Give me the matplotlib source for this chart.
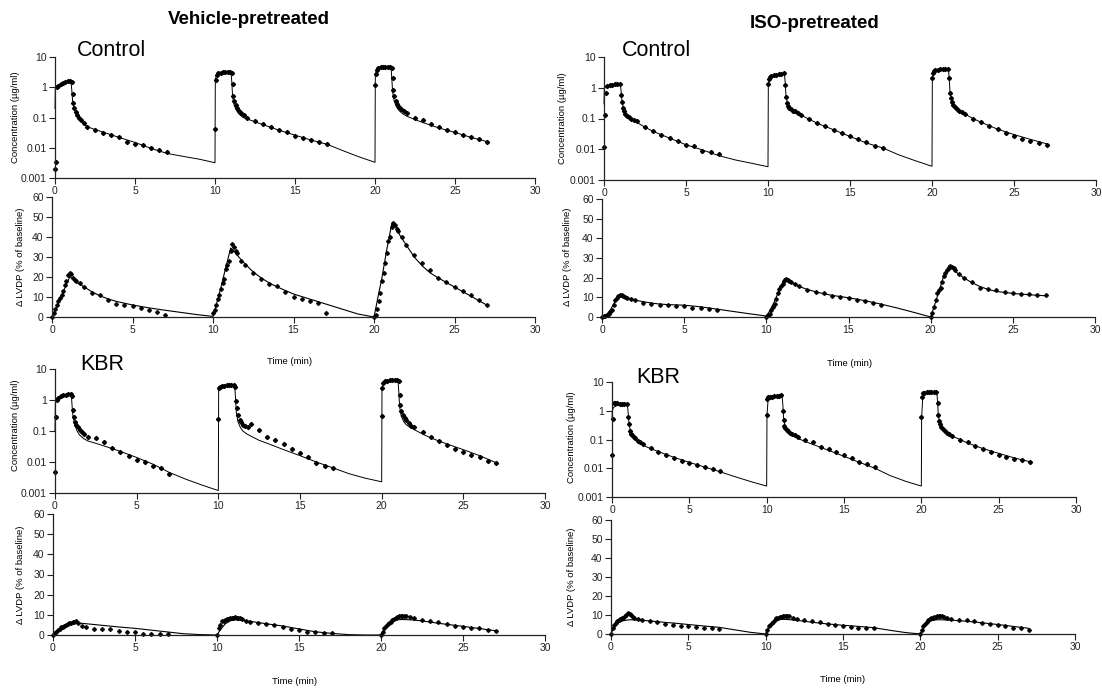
import matplotlib
matplotlib.use("Agg")
import matplotlib.pyplot as plt
from matplotlib.ticker import NullLocator

plt.rcParams['font.family'] = ['Liberation Sans', 'DejaVu Sans']

W, H = 1102, 690

# sampling times (min), three 1-min infusions at 0, 10 and 20 min
conc_time = [0.0, 0.05, 0.1, 0.2, 0.35, 0.5, 0.65, 0.8, 0.95, 1.05, 1.1, 1.15, 1.2, 1.3, 1.4, 1.5, 1.65, 1.8, 2.0, 2.5, 3.0, 3.5, 4.0, 4.5, 5.0, 5.5, 6.0, 6.5, 7.0,
             10.0, 10.05, 10.1, 10.2, 10.35, 10.5, 10.65, 10.8, 10.95, 11.05, 11.1, 11.15, 11.2, 11.3, 11.4, 11.5, 11.65, 11.8, 12.0, 12.5, 13.0, 13.5, 14.0, 14.5, 15.0, 15.5, 16.0, 16.5, 17.0,
             20.0, 20.05, 20.1, 20.2, 20.35, 20.5, 20.65, 20.8, 20.95, 21.05, 21.1, 21.15, 21.2, 21.3, 21.4, 21.5, 21.65, 21.8, 22.0, 22.5, 23.0, 23.5, 24.0, 24.5, 25.0, 25.5, 26.0, 26.5, 27.0]
conc_fit_time = [0.0, 0.02, 0.1, 0.3, 0.6, 0.9, 1.0, 1.05, 1.1, 1.2, 1.35, 1.5, 1.75, 2.0, 2.5, 3.0, 4.0, 5.0, 6.0, 7.0, 8.0, 9.0,
                 10.0, 10.02, 10.1, 10.3, 10.6, 10.9, 11.0, 11.05, 11.1, 11.2, 11.35, 11.5, 11.75, 12.0, 12.5, 13.0, 14.0, 15.0, 16.0, 17.0, 18.0, 19.0,
                 20.0, 20.02, 20.1, 20.3, 20.6, 20.9, 21.0, 21.05, 21.1, 21.2, 21.35, 21.5, 21.75, 22.0, 22.5, 23.0, 24.0, 25.0, 26.0, 27.0]
lvdp_time = [0.0, 0.1, 0.2, 0.3, 0.4, 0.5, 0.6, 0.7, 0.8, 0.9, 1.0, 1.1, 1.2, 1.3, 1.4, 1.5, 1.75, 2.0, 2.5, 3.0, 3.5, 4.0, 4.5, 5.0, 5.5, 6.0, 6.5, 7.0,
             10.0, 10.1, 10.2, 10.3, 10.4, 10.5, 10.6, 10.7, 10.8, 10.9, 11.0, 11.1, 11.2, 11.3, 11.4, 11.5, 11.75, 12.0, 12.5, 13.0, 13.5, 14.0, 14.5, 15.0, 15.5, 16.0, 16.5, 17.0,
             20.0, 20.1, 20.2, 20.3, 20.4, 20.5, 20.6, 20.7, 20.8, 20.9, 21.0, 21.1, 21.2, 21.3, 21.4, 21.5, 21.75, 22.0, 22.5, 23.0, 23.5, 24.0, 24.5, 25.0, 25.5, 26.0, 26.5, 27.0]
lvdp_fit_time = [0.0, 0.2, 0.5, 0.8, 1.1, 1.3, 1.6, 2.0, 2.5, 3.0, 3.5, 4.0, 5.0, 6.0, 7.0, 8.0, 9.0,
                 10.0, 10.2, 10.5, 10.8, 11.1, 11.3, 11.6, 12.0, 12.5, 13.0, 13.5, 14.0, 15.0, 16.0, 17.0, 18.0, 19.0,
                 20.0, 20.2, 20.5, 20.8, 21.1, 21.3, 21.6, 22.0, 22.5, 23.0, 23.5, 24.0, 25.0, 26.0, 27.0]

# Vehicle-pretreated, Control
veh_ctrl_conc = [0.002, 0.0035, 1.0, 1.1, 1.25, 1.35, 1.45, 1.55, 1.6, 1.5, 0.6, 0.3, 0.2, 0.15, 0.12, 0.1, 0.08, 0.065, 0.05, 0.038, 0.031, 0.026, 0.022, 0.016, 0.013, 0.012, 0.0095, 0.0085, 0.0072,
                 0.042, 1.8, 2.5, 2.9, 3.0, 3.1, 3.2, 3.3, 3.2, 3.0, 1.3, 0.5, 0.35, 0.25, 0.2, 0.17, 0.14, 0.12, 0.1, 0.075, 0.06, 0.048, 0.038, 0.032, 0.025, 0.021, 0.018, 0.015, 0.013,
                 1.2, 2.8, 3.8, 4.3, 4.5, 4.6, 4.7, 4.6, 4.5, 4.2, 2.0, 0.8, 0.5, 0.35, 0.28, 0.23, 0.19, 0.16, 0.14, 0.1, 0.08, 0.062, 0.05, 0.04, 0.033, 0.027, 0.022, 0.019, 0.016]
veh_ctrl_conc_fit = [0.2, 0.9, 1.05, 1.2, 1.35, 1.5, 1.5, 0.8, 0.35, 0.18, 0.12, 0.09, 0.065, 0.05, 0.04, 0.033, 0.022, 0.015, 0.0095, 0.0065, 0.0052, 0.0042,
                     0.0032, 1.8, 2.6, 2.9, 3.1, 3.2, 3.1, 1.5, 0.5, 0.25, 0.17, 0.13, 0.1, 0.09, 0.072, 0.058, 0.038, 0.026, 0.018, 0.013, 0.008, 0.005,
                     0.0033, 2.5, 3.8, 4.2, 4.4, 4.5, 4.5, 2.0, 0.7, 0.35, 0.22, 0.17, 0.13, 0.11, 0.085, 0.068, 0.045, 0.032, 0.022, 0.016]
veh_ctrl_lvdp = [0, 2, 4, 6, 8, 9.5, 11, 13, 16, 18, 21, 22, 21.5, 19.5, 18.5, 18, 17, 15, 12, 11, 8.3, 6.7, 5.8, 5.3, 4.5, 3.5, 2.5, 1.2,
                 2, 3.5, 6, 9, 11, 14, 17, 19, 24, 26, 28, 33, 36.5, 35, 33, 32, 28, 26, 22, 19, 16.5, 15.5, 12.5, 10, 9, 8, 7, 2,
                 0, 1, 4, 8, 12, 18, 22, 27, 32, 38, 40, 45, 47, 46, 44, 43, 40, 36, 31, 27, 23.5, 19.5, 17.5, 15, 13, 11, 8.5, 6]
veh_ctrl_lvdp_fit = [0, 3.5, 9, 14.5, 20, 19, 17, 15, 12.5, 10.5, 9, 7.8, 6, 4.6, 3.4, 2.3, 1.2,
                     0.3, 6, 15, 25, 34.5, 33, 30, 26.5, 22.5, 19.5, 17, 15, 11.5, 9, 6.5, 4, 1.5,
                     0, 8, 20, 34, 46.5, 46, 41, 36, 30, 25.5, 22, 19.5, 15, 10.5, 6]

# ISO-pretreated, Control
iso_ctrl_conc = [0.012, 0.13, 0.66, 1.1, 1.2, 1.25, 1.3, 1.35, 1.3, 0.6, 0.35, 0.22, 0.17, 0.14, 0.12, 0.11, 0.1, 0.09, 0.08, 0.054, 0.039, 0.029, 0.024, 0.019, 0.014, 0.013, 0.0088, 0.0083, 0.0069,
                 1.3, 1.9, 2.3, 2.5, 2.6, 2.6, 2.7, 2.8, 3.0, 1.2, 0.5, 0.31, 0.26, 0.22, 0.2, 0.18, 0.17, 0.15, 0.13, 0.1, 0.072, 0.055, 0.042, 0.033, 0.026, 0.021, 0.017, 0.013, 0.011,
                 2.0, 3.0, 3.5, 3.8, 3.9, 4.0, 4.1, 4.2, 4.2, 2.0, 0.7, 0.45, 0.35, 0.28, 0.24, 0.21, 0.18, 0.16, 0.14, 0.1, 0.075, 0.056, 0.044, 0.034, 0.027, 0.022, 0.018, 0.016, 0.014]
iso_ctrl_conc_fit = [0.3, 0.9, 1.1, 1.2, 1.3, 1.35, 1.3, 0.7, 0.35, 0.2, 0.14, 0.11, 0.09, 0.075, 0.052, 0.038, 0.023, 0.014, 0.0095, 0.0062, 0.0045, 0.0035,
                     0.0027, 1.3, 2.2, 2.5, 2.6, 2.8, 2.8, 1.5, 0.5, 0.3, 0.22, 0.19, 0.16, 0.13, 0.095, 0.07, 0.043, 0.026, 0.016, 0.011, 0.0065, 0.0042,
                     0.0028, 2.0, 3.4, 3.8, 4.0, 4.2, 4.2, 2.0, 0.7, 0.4, 0.27, 0.21, 0.17, 0.14, 0.1, 0.075, 0.045, 0.03, 0.021, 0.015]
iso_ctrl_lvdp = [0, 0.3, 0.5, 1.0, 1.7, 2.5, 3.4, 5.9, 8.5, 9.5, 10.5, 11, 11, 10.8, 10.2, 9.8, 9.3, 8.5, 7.3, 6.8, 6.3, 5.9, 5.6, 5.6, 4.7, 4.6, 4.2, 3.4,
                 0, 0.8, 1.7, 3.5, 5, 6.8, 9.3, 12, 14.4, 16, 17, 18.5, 19.5, 19, 18.5, 17.8, 17, 16, 13.9, 12.7, 12.2, 10.5, 10.2, 9.7, 8.5, 8.0, 7.1, 6.3,
                 0, 2, 5, 8.5, 12, 13.5, 15, 18, 21, 22.5, 24, 25, 26, 25.5, 24.8, 24, 22, 20, 18, 15, 14.4, 13.6, 12.7, 12.2, 11.9, 11.5, 11, 11]
iso_ctrl_lvdp_fit = [0, 0.5, 3.5, 8.0, 11.0, 10.6, 9.6, 8.6, 7.8, 7.1, 6.6, 6.3, 6.0, 5.2, 4.0, 2.8, 1.6,
                     0.5, 3.0, 8.0, 14.0, 19.5, 19.0, 17.0, 15.5, 14.0, 12.8, 11.8, 11.0, 9.8, 8.3, 6.5, 4.5, 2.3,
                     0, 5, 13, 21, 26, 25, 22.5, 20, 17.5, 15.5, 14, 13, 12, 11.3, 10.8]

# Vehicle-pretreated, KBR
veh_kbr_conc = [0.0048, 0.28, 1.0, 1.2, 1.35, 1.45, 1.5, 1.55, 1.6, 1.3, 0.46, 0.29, 0.2, 0.16, 0.13, 0.11, 0.095, 0.078, 0.066, 0.058, 0.045, 0.029, 0.021, 0.016, 0.012, 0.0097, 0.0076, 0.0063, 0.0041,
                0.25, 2.4, 2.6, 2.8, 2.9, 3.0, 3.0, 3.1, 3.0, 2.6, 0.96, 0.55, 0.33, 0.23, 0.2, 0.16, 0.14, 0.13, 0.17, 0.11, 0.066, 0.05, 0.037, 0.027, 0.02, 0.014, 0.0095, 0.0075, 0.0065,
                0.3, 2.5, 3.5, 4.0, 4.2, 4.3, 4.4, 4.5, 4.4, 4.0, 1.5, 0.7, 0.45, 0.32, 0.26, 0.22, 0.18, 0.15, 0.13, 0.09, 0.065, 0.048, 0.036, 0.027, 0.021, 0.017, 0.014, 0.011, 0.0095]
veh_kbr_conc_fit = [0.1, 0.8, 1.1, 1.3, 1.45, 1.5, 1.45, 0.6, 0.3, 0.17, 0.1, 0.075, 0.057, 0.048, 0.04, 0.033, 0.022, 0.014, 0.0085, 0.0046, 0.0028, 0.0018,
                    0.0012, 2.2, 2.5, 2.7, 2.9, 3.0, 3.0, 1.2, 0.4, 0.2, 0.13, 0.1, 0.08, 0.068, 0.05, 0.04, 0.025, 0.016, 0.01, 0.0065, 0.0042, 0.003,
                    0.0023, 2.5, 3.2, 3.9, 4.2, 4.4, 4.3, 1.8, 0.6, 0.3, 0.2, 0.16, 0.13, 0.11, 0.08, 0.06, 0.038, 0.025, 0.016, 0.0095]
veh_kbr_lvdp = [0, 0.8, 1.5, 2.5, 3.2, 3.8, 4.2, 4.6, 5.0, 5.4, 5.9, 6.1, 6.4, 6.6, 6.7, 5.8, 4.5, 3.9, 2.9, 2.9, 2.9, 2.0, 1.7, 1.3, 0.5, 0.3, 0.5, 0.3,
                0, 3.4, 5, 6.7, 7.1, 7.5, 7.7, 7.9, 8.2, 8.4, 8.6, 8.7, 8.6, 8.4, 8.2, 7.9, 7.0, 6.5, 5.8, 5.3, 4.8, 4.2, 3.0, 2.6, 1.7, 1.4, 1.2, 0.8,
                0, 1.5, 3.5, 4.5, 5.3, 5.8, 6.6, 7.5, 8.0, 8.5, 8.8, 9.2, 9.5, 9.4, 9.3, 9.2, 8.7, 8.3, 7.5, 6.8, 6.2, 5.5, 4.6, 4.2, 3.7, 3.3, 2.6, 2.1]
veh_kbr_lvdp_fit = [0, 1.5, 3.8, 5.2, 5.8, 6.0, 5.9, 5.6, 5.2, 4.8, 4.4, 4.0, 3.3, 2.4, 1.5, 0.6, 0.2,
                    0, 2.5, 5.5, 7.0, 7.5, 7.5, 7.2, 6.8, 6.2, 5.6, 5.0, 4.5, 3.0, 1.6, 0.8, 0.2, 0,
                    0, 3, 6, 7.2, 7.6, 7.7, 7.6, 7.4, 7.0, 6.4, 5.8, 5.3, 4.3, 3.2, 2.1]

# ISO-pretreated, KBR
iso_kbr_conc = [0.028, 0.53, 1.8, 1.9, 1.8, 1.75, 1.7, 1.7, 1.65, 0.6, 0.36, 0.2, 0.16, 0.14, 0.12, 0.11, 0.09, 0.08, 0.07, 0.05, 0.038, 0.03, 0.022, 0.018, 0.015, 0.013, 0.011, 0.0095, 0.008,
                0.69, 2.5, 3.0, 3.1, 3.1, 3.2, 3.2, 3.3, 3.4, 1.0, 0.46, 0.3, 0.25, 0.21, 0.19, 0.17, 0.16, 0.14, 0.12, 0.1, 0.085, 0.055, 0.045, 0.036, 0.028, 0.022, 0.017, 0.014, 0.011,
                0.6, 3.0, 4.0, 4.3, 4.4, 4.5, 4.5, 4.6, 4.6, 1.8, 0.7, 0.45, 0.35, 0.28, 0.24, 0.2, 0.17, 0.15, 0.13, 0.1, 0.08, 0.06, 0.048, 0.038, 0.03, 0.025, 0.021, 0.019, 0.017]
iso_kbr_conc_fit = [0.5, 1.0, 1.3, 1.5, 1.55, 1.6, 1.55, 0.8, 0.35, 0.18, 0.12, 0.095, 0.075, 0.063, 0.048, 0.038, 0.024, 0.016, 0.011, 0.0075, 0.005, 0.0034,
                    0.0024, 0.7, 2.8, 3.0, 3.1, 3.2, 3.2, 1.5, 0.5, 0.27, 0.2, 0.16, 0.13, 0.11, 0.085, 0.067, 0.042, 0.026, 0.016, 0.01, 0.0055, 0.0035,
                    0.0024, 0.6, 3.5, 4.2, 4.4, 4.5, 4.5, 2.0, 0.7, 0.35, 0.24, 0.19, 0.15, 0.13, 0.1, 0.075, 0.048, 0.033, 0.023, 0.017]
iso_kbr_lvdp = [0, 3.0, 5.0, 6.0, 6.8, 7.3, 7.8, 8.2, 8.6, 9.5, 10.1, 10.8, 10.5, 10.1, 9.2, 8.4, 7.9, 7.5, 6.6, 6.1, 5.4, 4.9, 4.4, 4.0, 3.7, 3.1, 3.1, 2.6,
                0, 2.0, 4.0, 5.0, 5.8, 6.5, 7.5, 8.2, 8.6, 8.9, 9.2, 9.5, 9.6, 9.5, 9.4, 9.3, 8.5, 8.0, 7.2, 6.6, 6.1, 5.4, 4.9, 4.4, 3.8, 3.3, 3.0, 3.0,
                0, 2.0, 4.2, 5.5, 6.5, 7.2, 7.8, 8.2, 8.5, 8.9, 9.2, 9.4, 9.6, 9.6, 9.4, 9.1, 8.4, 7.9, 7.3, 7.3, 6.8, 5.6, 5.2, 4.7, 4.2, 3.3, 3.0, 2.1]
iso_kbr_lvdp_fit = [0, 3.5, 6.0, 7.0, 7.4, 7.5, 7.4, 7.2, 6.9, 6.5, 6.1, 5.8, 5.0, 4.2, 3.5, 2.2, 0.9,
                    0, 3.5, 6.5, 7.5, 7.7, 7.7, 7.5, 7.2, 6.7, 6.2, 5.7, 5.3, 4.6, 4.0, 3.3, 2.0, 0.8,
                    0, 3.5, 6.5, 7.2, 7.5, 7.5, 7.4, 7.3, 7.0, 6.7, 6.3, 5.9, 5.0, 4.0, 3.0]

x_ticks = [0, 5, 10, 15, 20, 25, 30]
conc_ticks = [0.001, 0.01, 0.1, 1, 10]
conc_labels = ['0.001', '0.01', '0.1', '1', '10']
lvdp_ticks = [0, 10, 20, 30, 40, 50, 60]

fig = plt.figure(figsize=(W / 100, H / 100), dpi=100)


def px_rect(x0, x1, ytop, ybot):
    return [x0 / W, 1 - ybot / H, (x1 - x0) / W, (ybot - ytop) / H]


def style(ax):
    for s in ['top', 'right']:
        ax.spines[s].set_visible(False)
    for s in ['left', 'bottom']:
        ax.spines[s].set_linewidth(0.9)
        ax.spines[s].set_color('#222222')
    ax.tick_params(direction='out', length=4, width=0.8, labelsize=7.5, pad=2, colors='#222222')
    ax.set_xlim(0, 30)
    ax.set_xticks(x_ticks)


def conc_panel(rect, data, fit):
    ax = fig.add_axes(px_rect(*rect))
    ax.plot(conc_fit_time, fit, color='black', lw=0.7, clip_on=False)
    ax.plot(conc_time, data, ls='none', marker='D', ms=2.1, color='black', clip_on=False)
    ax.set_yscale('log')
    ax.set_ylim(0.001, 10)
    ax.set_yticks(conc_ticks)
    ax.set_yticklabels(conc_labels)
    ax.yaxis.set_minor_locator(NullLocator())
    style(ax)
    return ax


def lvdp_panel(rect, data, fit):
    ax = fig.add_axes(px_rect(*rect))
    ax.plot(lvdp_fit_time, fit, color='black', lw=0.8, clip_on=False)
    ax.plot(lvdp_time, data, ls='none', marker='P', ms=2.4, color='black', clip_on=False)
    ax.set_ylim(0, 60)
    ax.set_yticks(lvdp_ticks)
    style(ax)
    return ax


conc_panel((55, 535, 57, 178), veh_ctrl_conc, veh_ctrl_conc_fit)
lvdp_panel((52, 535, 197, 317), veh_ctrl_lvdp, veh_ctrl_lvdp_fit)
conc_panel((55, 545, 369, 493), veh_kbr_conc, veh_kbr_conc_fit)
lvdp_panel((53, 545, 514, 635), veh_kbr_lvdp, veh_kbr_lvdp_fit)
conc_panel((604, 1096, 57, 180), iso_ctrl_conc, iso_ctrl_conc_fit)
lvdp_panel((602, 1095, 199, 317), iso_ctrl_lvdp, iso_ctrl_lvdp_fit)
conc_panel((612, 1076, 382, 497), iso_kbr_conc, iso_kbr_conc_fit)
lvdp_panel((611, 1075, 520, 634), iso_kbr_lvdp, iso_kbr_lvdp_fit)


def put(x, y, s, **kw):
    fig.text(x / W, 1 - y / H, s, **kw)


put(249, 20, 'Vehicle-pretreated', fontsize=13.5, fontweight='bold', ha='center', va='center')
put(815, 24, 'ISO-pretreated', fontsize=13.5, fontweight='bold', ha='center', va='center')
put(77, 51, 'Control', fontsize=15.5, ha='left', va='center')
put(622, 51, 'Control', fontsize=15.5, ha='left', va='center')
put(80, 364, 'KBR', fontsize=15.5, ha='left', va='center')
put(636, 378, 'KBR', fontsize=15.5, ha='left', va='center')

for x, y in [(290, 361), (295, 682), (850, 363), (843, 680)]:
    put(x, y, 'Time (min)', fontsize=6.8, ha='center', va='center')

conc_label = 'Concentration (\u00b5g/ml)'
lvdp_label = '\u0394 LVDP (% of baseline)'
for x, y, s in [(16, 117, conc_label), (21, 257, lvdp_label),
                (16, 425, conc_label), (21, 575, lvdp_label),
                (563, 118, conc_label), (567, 257, lvdp_label),
                (572, 437, conc_label), (572, 577, lvdp_label)]:
    put(x, y, s, fontsize=6.8, rotation=90, ha='center', va='center')

fig.savefig('out.png', dpi=100)
